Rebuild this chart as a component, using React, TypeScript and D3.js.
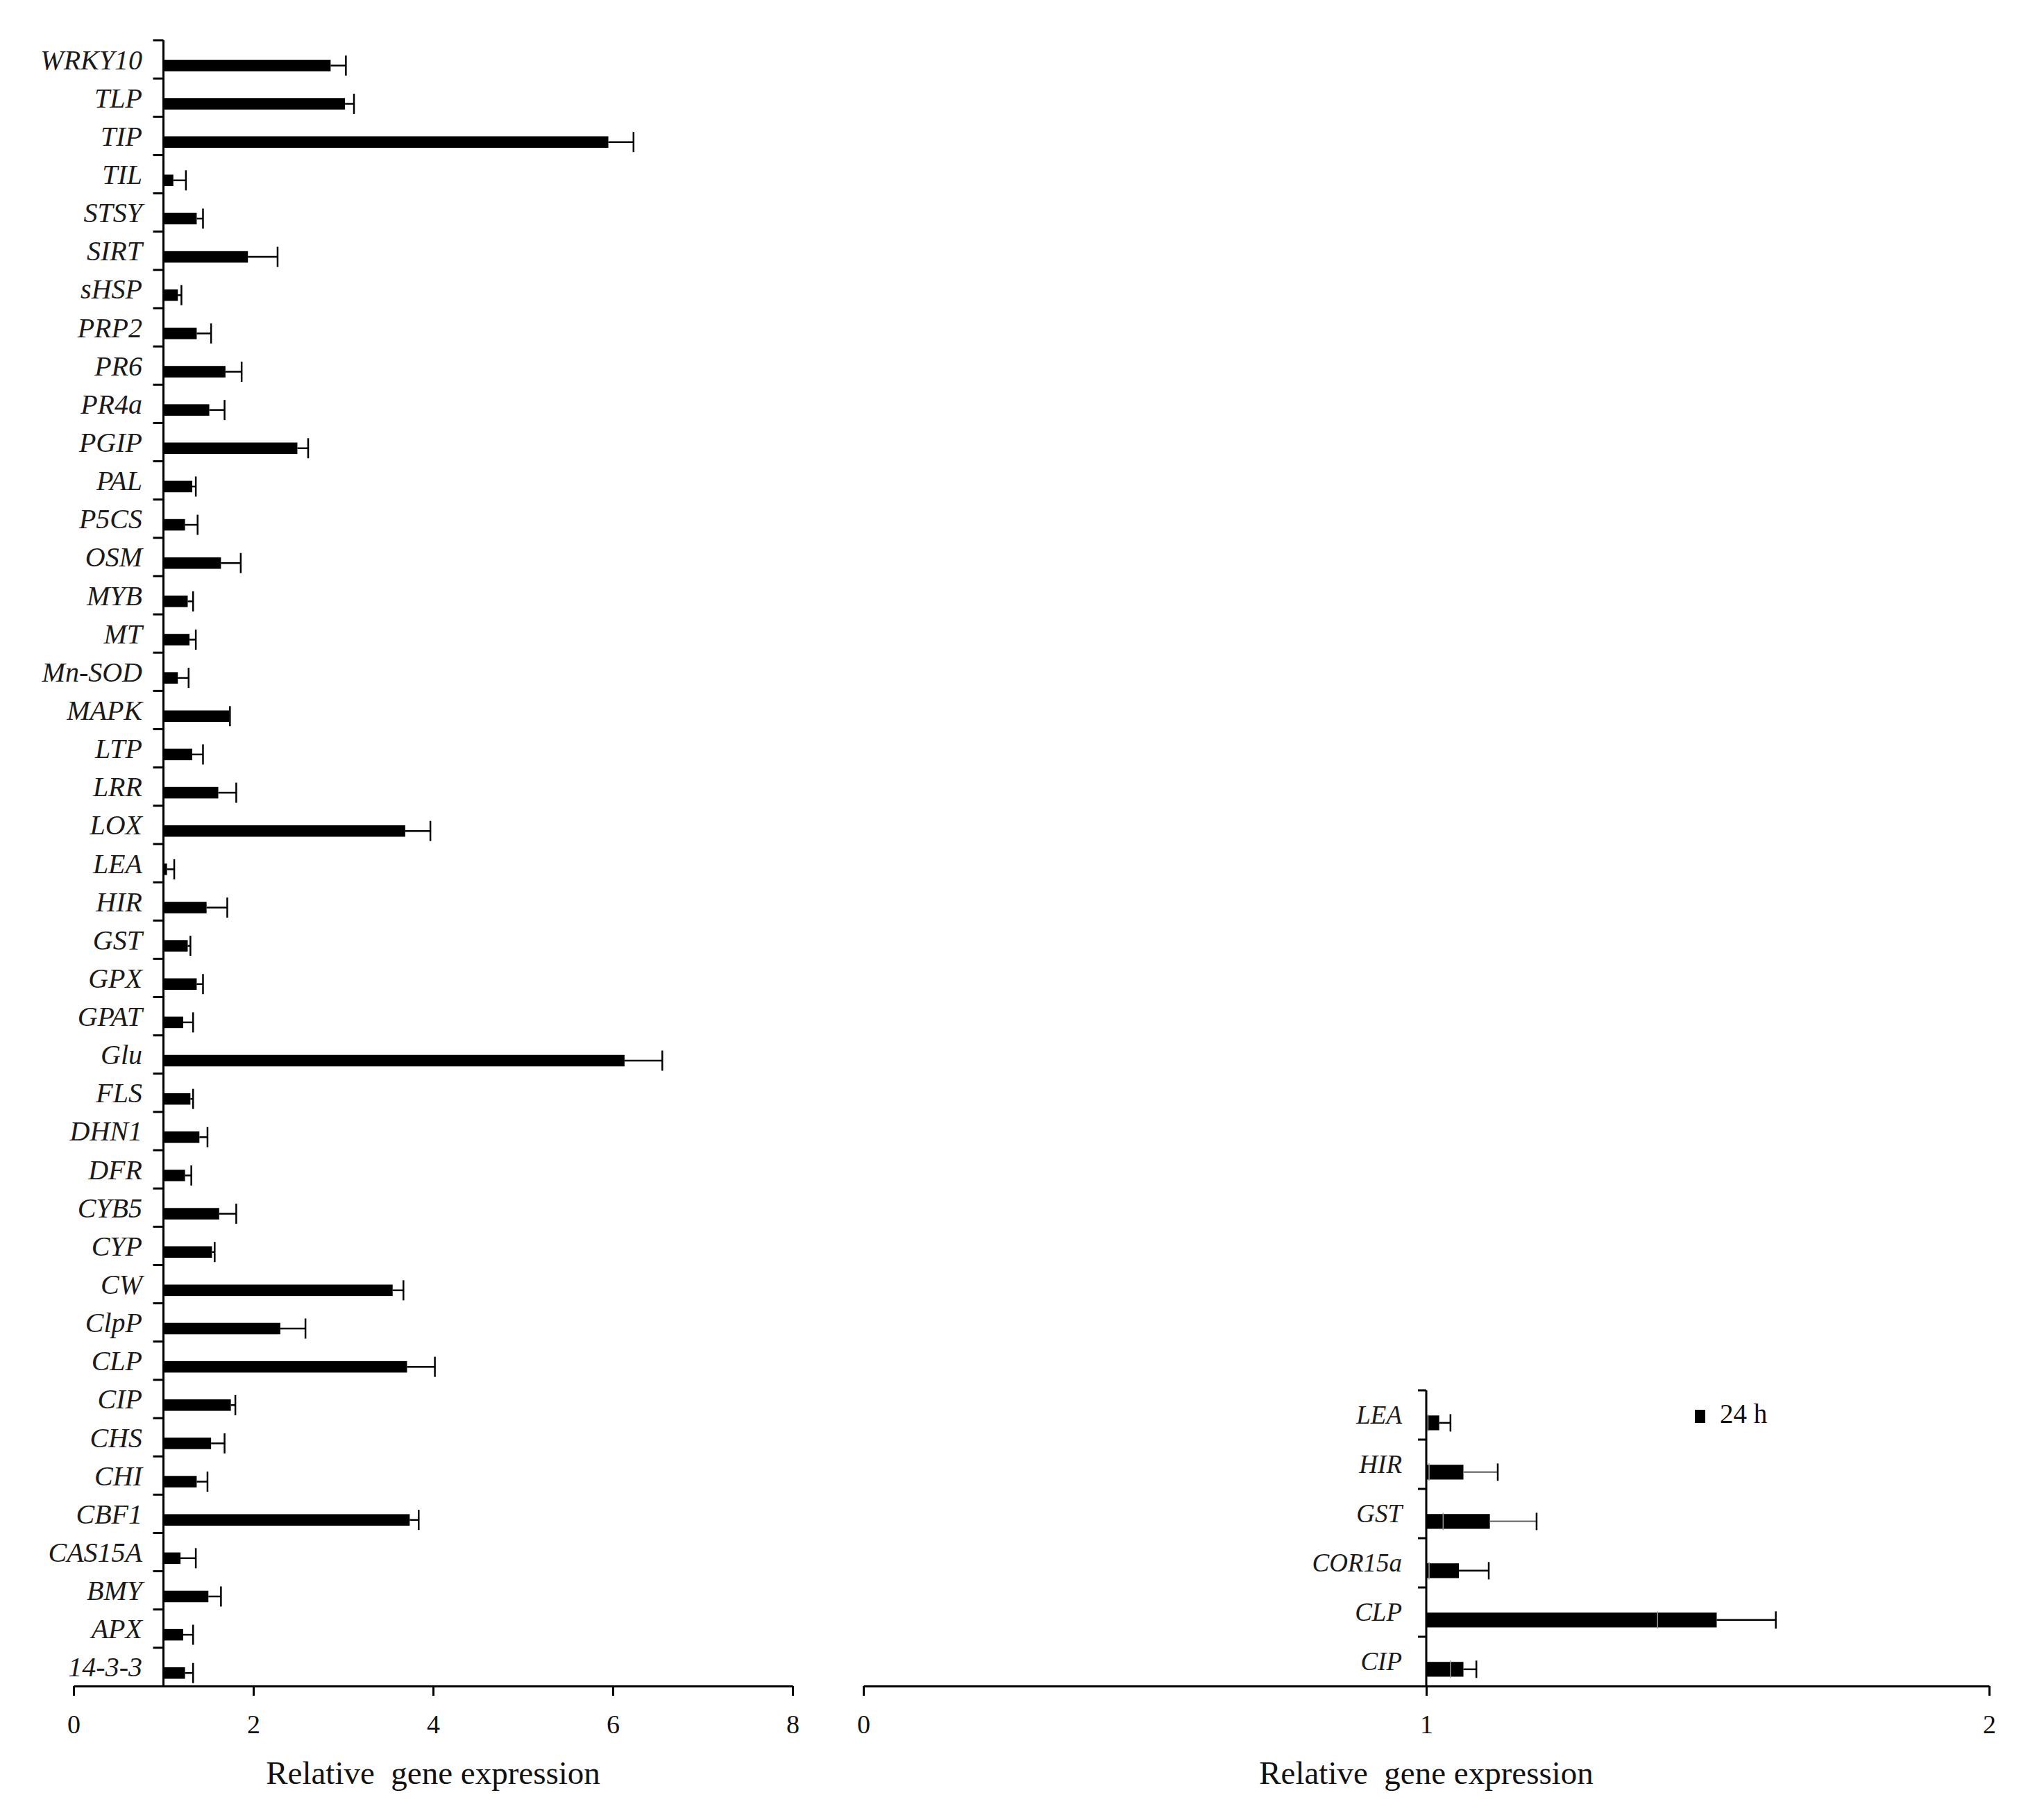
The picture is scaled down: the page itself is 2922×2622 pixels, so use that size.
import { useEffect, useRef } from "react";
import * as d3 from "d3";

// 48 h panel (left) - genes listed top to bottom
const genes = [
    "WRKY10", "TLP", "TIP", "TIL", "STSY", "SIRT", "sHSP", "PRP2", "PR6", "PR4a",
    "PGIP", "PAL", "P5CS", "OSM", "MYB", "MT", "Mn-SOD", "MAPK", "LTP", "LRR",
    "LOX", "LEA", "HIR", "GST", "GPX", "GPAT", "Glu", "FLS", "DHN1", "DFR",
    "CYB5", "CYP", "CW", "ClpP", "CLP", "CIP", "CHS", "CHI", "CBF1", "CAS15A",
    "BMY", "APX", "14-3-3",
];
const expression = [
    2.86, 3.02, 5.95, 1.11, 1.37, 1.94, 1.16, 1.37, 1.69, 1.51,
    2.49, 1.32, 1.24, 1.64, 1.27, 1.29, 1.16, 1.73, 1.32, 1.61,
    3.69, 1.04, 1.48, 1.27, 1.37, 1.22, 6.13, 1.30, 1.40, 1.24,
    1.62, 1.54, 3.55, 2.30, 3.71, 1.75, 1.53, 1.37, 3.74, 1.19,
    1.50, 1.22, 1.24,
];
const errors = [
    0.17, 0.10, 0.28, 0.14, 0.07, 0.33, 0.04, 0.16, 0.18, 0.17,
    0.12, 0.04, 0.14, 0.22, 0.06, 0.07, 0.12, 0.01, 0.12, 0.20,
    0.28, 0.08, 0.23, 0.03, 0.07, 0.11, 0.42, 0.03, 0.09, 0.07,
    0.19, 0.03, 0.12, 0.28, 0.31, 0.05, 0.15, 0.12, 0.10, 0.17,
    0.14, 0.11, 0.09,
];
const xTicks = [0, 2, 4, 6, 8];

// 24 h panel (right)
const genes24 = ["LEA", "HIR", "GST", "COR15a", "CLP", "CIP"];
const expression24 = [1.023, 1.066, 1.113, 1.058, 1.516, 1.066];
const errors24 = [0.02, 0.061, 0.083, 0.053, 0.105, 0.023];
const xTicks24 = [0, 1, 2];
const legendLabel = "24 h";
const axisTitle = "Relative  gene expression";

const W = 2922;
const H = 2622;
const serif = "'Liberation Serif', 'Times New Roman', serif";

type Panel = {
    cats: string[];
    vals: number[];
    errs: number[];
    ticks: number[];
    xRange: [number, number];
    yRange: [number, number];
    labelX: number;
    labelSize: number;
    tickSize: number;
    capH: number;
    grayErr?: Set<string>;
    minusCaps?: boolean;
};

function drawPanel(svg: any, p: Panel) {
    const x = d3
        .scaleLinear()
        .domain([p.ticks[0], p.ticks[p.ticks.length - 1]])
        .range(p.xRange);
    const y = d3.scaleBand().domain(p.cats).range(p.yRange).padding(0);
    const bw = y.bandwidth();
    const barH = bw * 0.3;
    const cy = (c: string) => (y(c) || 0) + bw / 2 + bw * 0.16;
    const base = x(1);

    // x axis
    const xAxis = svg
        .append("g")
        .attr("transform", `translate(0,${p.yRange[1]})`)
        .call(
            d3
                .axisBottom(x)
                .tickValues(p.ticks)
                .tickSize(14)
                .tickSizeOuter(0)
                .tickPadding(27)
                .tickFormat(d3.format("d"))
        );
    xAxis.select(".domain").attr("stroke", "#000").attr("stroke-width", 3);
    xAxis.selectAll(".tick line").attr("stroke", "#000").attr("stroke-width", 3);
    xAxis
        .selectAll("text")
        .attr("font-family", serif)
        .attr("font-size", 38)
        .attr("fill", "#111");

    // y axis (crosses at 1), ticks between categories
    svg.append("line")
        .attr("x1", base)
        .attr("x2", base)
        .attr("y1", p.yRange[0])
        .attr("y2", p.yRange[1])
        .attr("stroke", "#000")
        .attr("stroke-width", 3);

    svg.selectAll(null)
        .data(p.cats)
        .enter()
        .append("line")
        .attr("x1", base - p.tickSize)
        .attr("x2", base)
        .attr("y1", (d: string) => y(d) || 0)
        .attr("y2", (d: string) => y(d) || 0)
        .attr("stroke", "#000")
        .attr("stroke-width", 3);

    svg.selectAll(null)
        .data(p.cats)
        .enter()
        .append("text")
        .attr("x", p.labelX)
        .attr("y", (d: string) => (y(d) || 0) + bw / 2)
        .attr("dy", "0.35em")
        .attr("text-anchor", "end")
        .attr("font-family", serif)
        .attr("font-style", "italic")
        .attr("font-size", p.labelSize)
        .attr("fill", "#1a1a1a")
        .text((d: string) => d);

    const rows = p.cats.map((c, i) => ({ c, v: p.vals[i], e: p.errs[i] }));

    // bars
    svg.selectAll(null)
        .data(rows)
        .enter()
        .append("rect")
        .attr("x", base)
        .attr("y", (d: any) => cy(d.c) - barH / 2)
        .attr("width", (d: any) => x(d.v) - base)
        .attr("height", barH)
        .attr("fill", "#000");

    // error bars
    const errColor = (d: any) => (p.grayErr && p.grayErr.has(d.c) ? "#7a7a7a" : "#000");
    svg.selectAll(null)
        .data(rows)
        .enter()
        .append("line")
        .attr("x1", (d: any) => x(d.v))
        .attr("x2", (d: any) => x(d.v + d.e))
        .attr("y1", (d: any) => cy(d.c))
        .attr("y2", (d: any) => cy(d.c))
        .attr("stroke", errColor)
        .attr("stroke-width", 2.5);

    svg.selectAll(null)
        .data(rows)
        .enter()
        .append("line")
        .attr("x1", (d: any) => x(d.v + d.e))
        .attr("x2", (d: any) => x(d.v + d.e))
        .attr("y1", (d: any) => cy(d.c) - p.capH / 2)
        .attr("y2", (d: any) => cy(d.c) + p.capH / 2)
        .attr("stroke", "#000")
        .attr("stroke-width", 2.5);

    if (p.minusCaps) {
        svg.selectAll(null)
            .data(rows)
            .enter()
            .append("line")
            .attr("x1", (d: any) => x(d.v - d.e))
            .attr("x2", (d: any) => x(d.v - d.e))
            .attr("y1", (d: any) => cy(d.c) - p.capH / 2)
            .attr("y2", (d: any) => cy(d.c) + p.capH / 2)
            .attr("stroke", "#9a9a9a")
            .attr("stroke-width", 1.5);
    }

    // axis title
    svg.append("text")
        .attr("x", x((p.ticks[0] + p.ticks[p.ticks.length - 1]) / 2))
        .attr("y", 2570)
        .attr("text-anchor", "middle")
        .attr("font-family", serif)
        .attr("font-size", 47)
        .attr("fill", "#111")
        .style("white-space", "pre")
        .text(axisTitle);

    return { x, y };
}

export default function App() {
    const svgRef = useRef<SVGSVGElement | null>(null);

    useEffect(() => {
        if (!svgRef.current) return;
        const svg = d3.select(svgRef.current);
        svg.selectAll("*").remove();

        svg.append("rect").attr("width", W).attr("height", H).attr("fill", "#fff");

        drawPanel(svg, {
            cats: genes,
            vals: expression,
            errs: errors,
            ticks: xTicks,
            xRange: [106, 1142],
            yRange: [58, 2429],
            labelX: 205,
            labelSize: 40,
            tickSize: 15,
            capH: 29,
        });

        drawPanel(svg, {
            cats: genes24,
            vals: expression24,
            errs: errors24,
            ticks: xTicks24,
            xRange: [1244, 2866],
            yRange: [2003, 2429],
            labelX: 2020,
            labelSize: 37,
            tickSize: 12,
            capH: 25,
            grayErr: new Set(["HIR", "GST"]),
            minusCaps: true,
        });

        // legend
        svg.append("rect")
            .attr("x", 2442)
            .attr("y", 2031)
            .attr("width", 15)
            .attr("height", 19)
            .attr("fill", "#000");
        svg.append("text")
            .attr("x", 2478)
            .attr("y", 2050)
            .attr("font-family", serif)
            .attr("font-size", 39)
            .attr("fill", "#111")
            .text(legendLabel);
    }, []);

    return (
        <svg
            ref={svgRef}
            width={W}
            height={H}
            style={{ position: "absolute", left: 0, top: 0, display: "block" }}
        />
    );
}
